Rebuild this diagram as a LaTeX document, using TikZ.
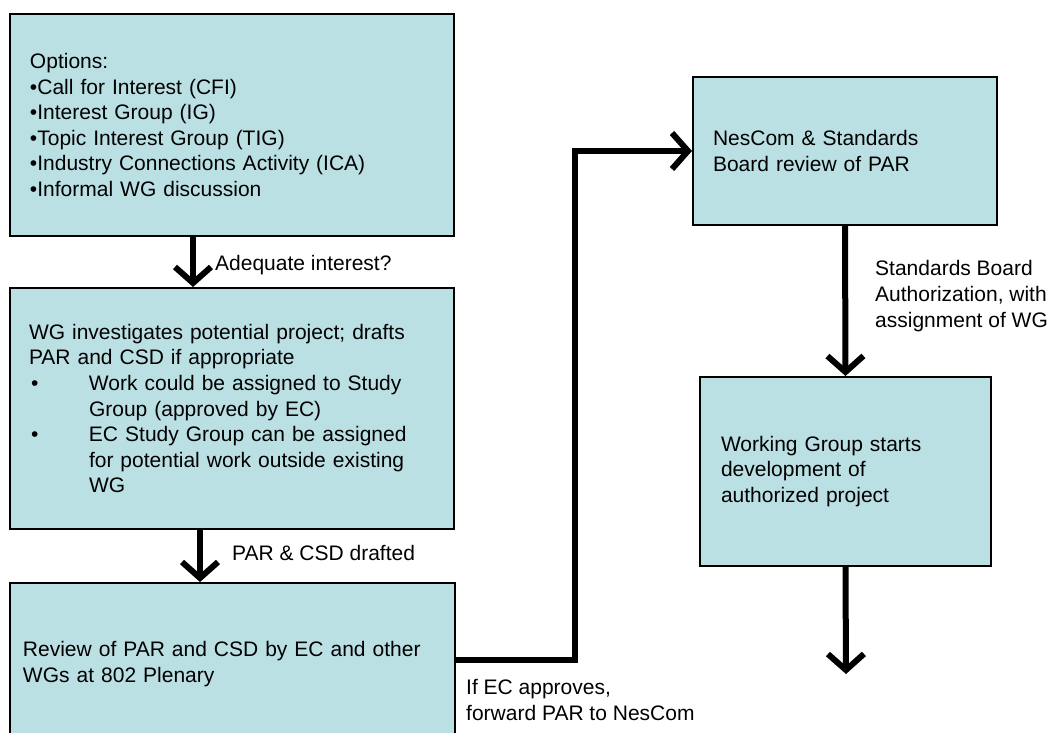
\documentclass[tikz,border=0pt]{standalone}
\usepackage{fontspec}
\setmainfont{Liberation Sans}
\usetikzlibrary{arrows.meta,calc}
\definecolor{boxfill}{RGB}{187,224,228}
\tikzset{
  box/.style={draw=black, line width=2pt, fill=boxfill, rectangle, align=left,
    font=\fontsize{21}{25.6}\selectfont, inner ysep=0pt},
  lbl/.style={anchor=base west, inner sep=0pt, align=left,
    font=\fontsize{21}{25.6}\selectfont},
  arr/.style={line width=6pt, -{Straight Barb[length=16pt,width=36pt]}},
}
\begin{document}
\begin{tikzpicture}[x=1pt,y=-1pt]
\useasboundingbox (0,0) rectangle (1053,733);

\node[box, text width=404pt, inner xsep=20pt, minimum height=222pt] (b1) at (232,125)
 {Options:\\ •Call for Interest (CFI)\\ •Interest Group (IG)\\ •Topic Interest Group (TIG)\\ •Industry Connections Activity (ICA)\\ •Informal WG discussion};

\node[box, text width=406pt, inner xsep=19pt, minimum height=241pt] (b2) at (232,408.5)
 {WG investigates potential project; drafts\\
  PAR and CSD if appropriate\\
  \makebox[60pt][l]{\hspace{2pt}•}Work could be assigned to Study\\
  \hspace*{60pt}Group (approved by EC)\\
  \makebox[60pt][l]{\hspace{2pt}•}EC Study Group can be assigned\\
  \hspace*{60pt}for potential work outside existing\\
  \hspace*{60pt}WG};

\node[box, text width=419pt, inner xsep=13pt, minimum height=162pt] (b3) at (232.5,664)
 {Review of PAR and CSD by EC and other\\ WGs at 802 Plenary};

\node[box, text width=264pt, inner xsep=20pt, minimum height=148pt] (b4) at (845,151)
 {NesCom \& Standards\\ Board review of PAR};

\node[box, text width=249pt, inner xsep=21pt, minimum height=189pt] (b5) at (845.5,471.5)
 {Working Group starts\\ development of\\ authorized project};

\coordinate (a1) at (193,0);
\coordinate (a2) at (200,0);
\coordinate (c1) at (575,660);
\coordinate (e5) at (846,674);

\draw[arr] (b1.south -| a1) -- (b2.north -| a1);
\draw[arr] (b2.south -| a2) -- (b3.north -| a2);
\draw[arr] (c1 -| b3.east) -- (c1) |- (b4.west);
\draw[arr] (b4.south) -- (b5.north);
\draw[arr] (b5.south) -- (e5);

\node[lbl] (l1) at (215,270) {Adequate interest?};
\node[lbl] (l2) at (232,560) {PAR \& CSD drafted};
\node[lbl] (l3) at (466,720) {If EC approves,\\ forward PAR to NesCom};
\node[lbl] (l4) at (875,327) {Standards Board\\ Authorization, with\\ assignment of WG};
\end{tikzpicture}
\end{document}
